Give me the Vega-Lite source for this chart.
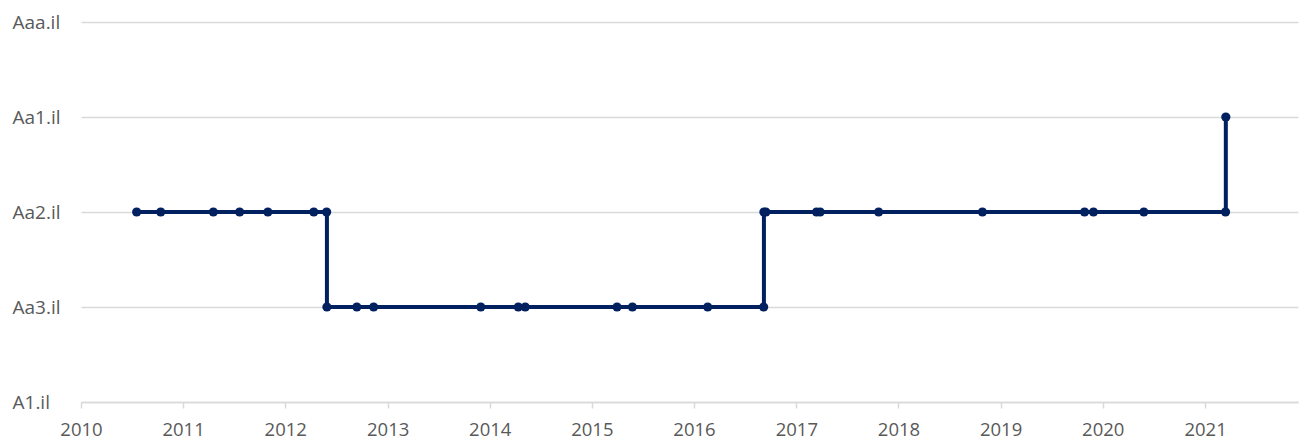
{
  "$schema": "https://vega.github.io/schema/vega-lite/v6.json",
  "width": 1217,
  "height": 380,
  "autosize": {"type": "none"},
  "padding": {"left": 81, "top": 22, "right": 9, "bottom": 41},
  "config": {
    "view": {"stroke": null},
    "font": "Open Sans"
  },
  "data": {
    "values": [
      {"date": "2010-07-19", "rating": "Aa2.il"},
      {"date": "2010-10-13", "rating": "Aa2.il"},
      {"date": "2011-04-19", "rating": "Aa2.il"},
      {"date": "2011-07-22", "rating": "Aa2.il"},
      {"date": "2011-10-31", "rating": "Aa2.il"},
      {"date": "2012-04-12", "rating": "Aa2.il"},
      {"date": "2012-05-28", "rating": "Aa2.il"},
      {"date": "2012-05-29", "rating": "Aa3.il"},
      {"date": "2012-09-13", "rating": "Aa3.il"},
      {"date": "2012-11-12", "rating": "Aa3.il"},
      {"date": "2013-11-30", "rating": "Aa3.il"},
      {"date": "2014-04-13", "rating": "Aa3.il"},
      {"date": "2014-05-08", "rating": "Aa3.il"},
      {"date": "2015-04-01", "rating": "Aa3.il"},
      {"date": "2015-05-26", "rating": "Aa3.il"},
      {"date": "2016-02-19", "rating": "Aa3.il"},
      {"date": "2016-09-06", "rating": "Aa3.il"},
      {"date": "2016-09-07", "rating": "Aa2.il"},
      {"date": "2016-09-14", "rating": "Aa2.il"},
      {"date": "2017-03-14", "rating": "Aa2.il"},
      {"date": "2017-03-27", "rating": "Aa2.il"},
      {"date": "2017-10-22", "rating": "Aa2.il"},
      {"date": "2018-10-28", "rating": "Aa2.il"},
      {"date": "2019-10-28", "rating": "Aa2.il"},
      {"date": "2019-11-29", "rating": "Aa2.il"},
      {"date": "2020-05-27", "rating": "Aa2.il"},
      {"date": "2021-03-15", "rating": "Aa2.il"},
      {"date": "2021-03-16", "rating": "Aa1.il"}
    ]
  },
  "encoding": {
    "x": {
      "field": "date",
      "type": "temporal",
      "scale": {"domain": ["2010-01-01", "2021-11-29"]},
      "axis": {
        "title": null,
        "format": "%Y",
        "tickCount": {"interval": "year", "step": 1},
        "grid": false,
        "domainColor": "#d9d9d9",
        "domainWidth": 1.5,
        "tickColor": "#d9d9d9",
        "tickWidth": 1.5,
        "tickSize": 6,
        "labelPadding": 12,
        "labelFontSize": 18.5,
        "labelColor": "#595959",
        "labelFlush": false
      }
    },
    "y": {
      "field": "rating",
      "type": "ordinal",
      "scale": {
        "type": "point",
        "domain": ["Aaa.il", "Aa1.il", "Aa2.il", "Aa3.il", "A1.il"],
        "padding": 0
      },
      "axis": {
        "title": null,
        "domain": false,
        "ticks": false,
        "grid": true,
        "gridColor": "#d9d9d9",
        "gridWidth": 1.5,
        "labelAlign": "left",
        "labelPadding": 69,
        "labelFontSize": 19,
        "labelColor": "#595959",
        "labelBaseline": "middle"
      }
    }
  },
  "layer": [
    {
      "mark": {"type": "line", "interpolate": "step-after", "color": "#002060", "strokeWidth": 4}
    },
    {
      "mark": {"type": "point", "filled": true, "opacity": 1, "color": "#002060", "size": 85}
    }
  ]
}
